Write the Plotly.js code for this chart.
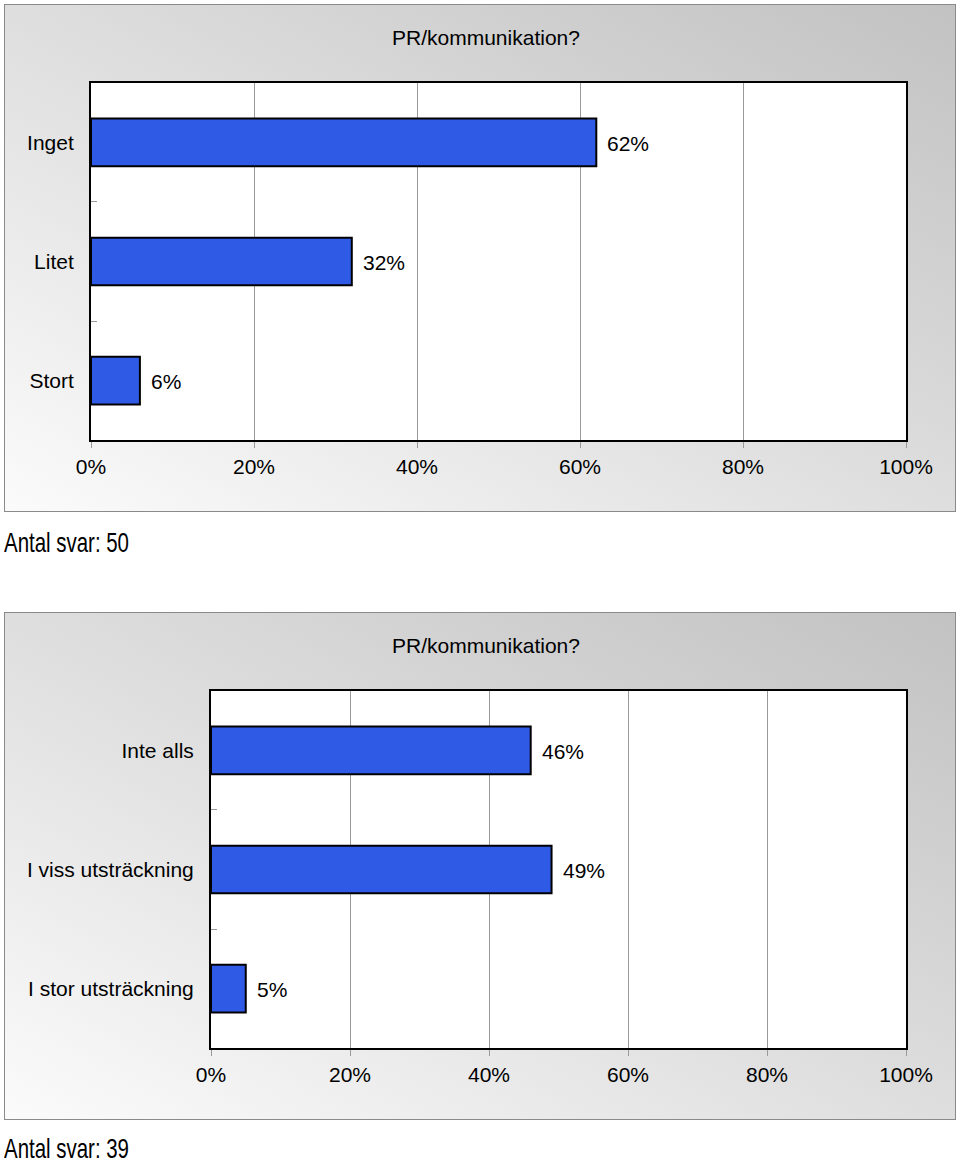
<!DOCTYPE html>
<html>
<head>
<meta charset="utf-8">
<script src="https://cdn.plot.ly/plotly-3.0.1.min.js"></script>
<style>
  html, body { margin: 0; padding: 0; background: #ffffff; }
  #wrap { position: relative; width: 960px; height: 1163px; overflow: hidden; }
  .panel { position: absolute; left: 4px; width: 952px; height: 508px; box-sizing: border-box;
           border: 1px solid #8a8a8a;
           background: linear-gradient(to top right, #fbfbfb 0%, #dedede 50%, #c2c2c2 100%); }
  #chart { position: absolute; left: 0; top: 0; width: 960px; height: 1163px; }
  .note { position: absolute; left: 4px; font-family: 'Liberation Sans', Arial, sans-serif;
          font-size: 28px; line-height: 24px; height: 24px; color: #000; white-space: nowrap;
          transform: scaleX(0.73); transform-origin: 0 50%; }
</style>
</head>
<body>
<div id="wrap">
  <div class="panel" style="top:4px;"></div>
  <div class="panel" style="top:612px;"></div>
  <div id="chart"></div>
  <div class="note" id="note1" style="top:531px;"></div>
  <div class="note" id="note2" style="top:1137px;"></div>
</div>
<script>
const title1 = 'PR/kommunikation?';
const cats1 = ['Inget', 'Litet', 'Stort'];
const vals1 = [62, 32, 6];
const note1 = 'Antal svar: 50';

const title2 = 'PR/kommunikation?';
const cats2 = ['Inte alls', 'I viss utsträckning', 'I stor utsträckning'];
const vals2 = [46, 49, 5];
const note2 = 'Antal svar: 39';

const W = 960, H = 1163;
const FONT = 'Liberation Sans, Arial, Helvetica, sans-serif';
const FS = 21;
const BAR = '#2f5ae6';

document.getElementById('note1').textContent = note1;
document.getElementById('note2').textContent = note2;

function bar(cats, vals, xa, ya) {
  return {
    type: 'bar', orientation: 'h', x: vals, y: cats, xaxis: xa, yaxis: ya,
    marker: { color: BAR, line: { color: '#000000', width: 2 } },
    hoverinfo: 'none', showlegend: false
  };
}

function xAx(d0, d1, anchor) {
  return {
    domain: [d0 / W, d1 / W], anchor: anchor, range: [0, 100], dtick: 20, tick0: 0,
    ticksuffix: '%', showgrid: true, gridcolor: '#9a9a9a', gridwidth: 1,
    ticks: 'outside', ticklen: 6, tickcolor: '#9a9a9a', tickwidth: 1,
    showline: true, linecolor: '#000000', linewidth: 2, mirror: true,
    zeroline: false, fixedrange: true,
    tickfont: { family: FONT, size: FS, color: '#000000' }
  };
}
function yAx(top, bottom, anchor) {
  return {
    domain: [1 - bottom / H, 1 - top / H], anchor: anchor, type: 'category',
    autorange: 'reversed', tickson: 'boundaries', ticks: 'inside', ticklen: 6,
    tickcolor: '#9a9a9a', tickwidth: 1, ticklabelstandoff: 11,
    showline: true, linecolor: '#000000', linewidth: 2, mirror: true,
    showgrid: false, zeroline: false, fixedrange: true,
    tickfont: { family: FONT, size: FS, color: '#000000' }
  };
}

const anns = [];
function valLabels(cats, vals, xa, ya) {
  cats.forEach((c, i) => anns.push({
    x: vals[i], y: c, xref: xa, yref: ya, text: vals[i] + '%', showarrow: false,
    xanchor: 'left', yanchor: 'middle', xshift: 9, yshift: -1,
    font: { family: FONT, size: FS, color: '#000000' }
  }));
}
valLabels(cats1, vals1, 'x', 'y');
valLabels(cats2, vals2, 'x2', 'y2');

anns.push({ xref: 'paper', yref: 'paper', x: 486 / W, y: 1 - 37 / H, text: title1,
  showarrow: false, xanchor: 'center', yanchor: 'middle',
  font: { family: FONT, size: FS, color: '#000000' } });
anns.push({ xref: 'paper', yref: 'paper', x: 486 / W, y: 1 - 645 / H, text: title2,
  showarrow: false, xanchor: 'center', yanchor: 'middle',
  font: { family: FONT, size: FS, color: '#000000' } });

const data = [bar(cats1, vals1, 'x', 'y'), bar(cats2, vals2, 'x2', 'y2')];
const layout = {
  width: W, height: H, margin: { l: 0, r: 0, t: 0, b: 0 },
  paper_bgcolor: 'rgba(0,0,0,0)', plot_bgcolor: '#ffffff',
  bargap: 0.6, showlegend: false,
  xaxis: xAx(91, 906, 'y'), yaxis: yAx(82.7, 440.3, 'x'),
  xaxis2: xAx(211, 906, 'y2'), yaxis2: yAx(690.7, 1048.3, 'x2'),
  annotations: anns,
  font: { family: FONT, size: FS, color: '#000000' }
};
Plotly.newPlot('chart', data, layout, { staticPlot: true, displayModeBar: false });
</script>
</body>
</html>
